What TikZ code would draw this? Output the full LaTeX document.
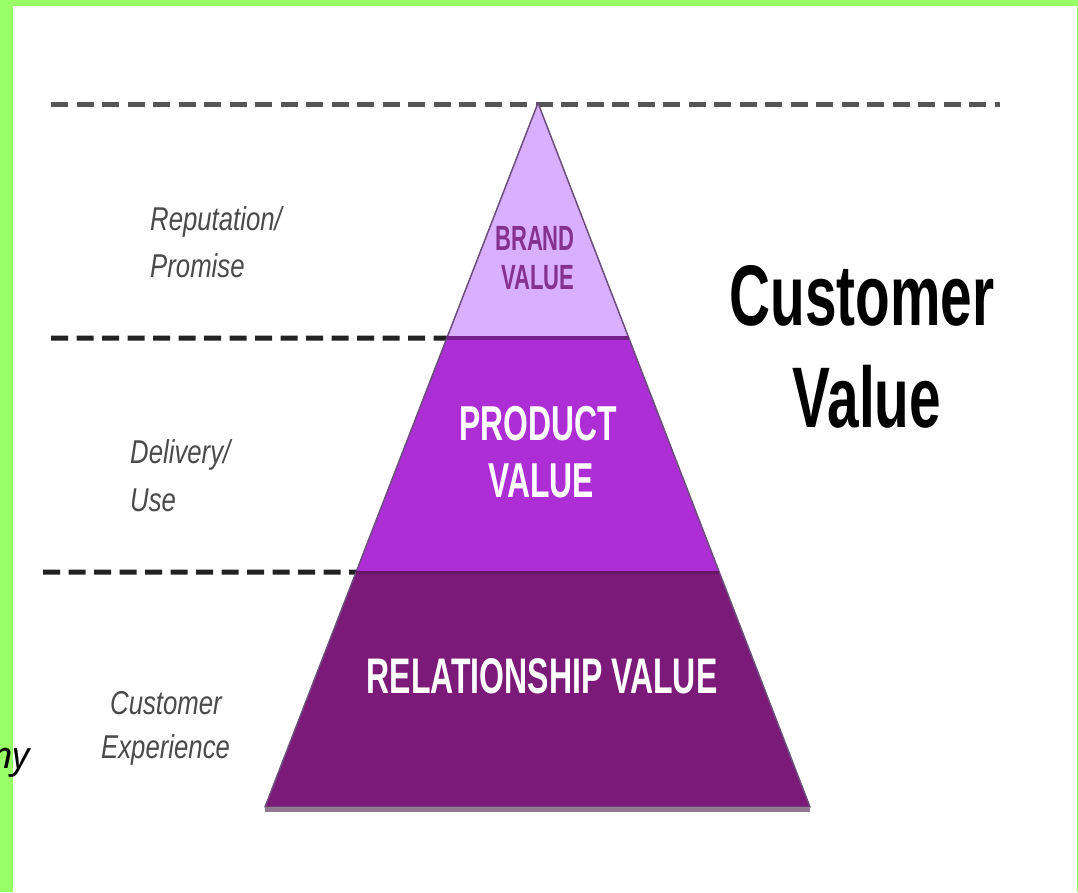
\documentclass[tikz,border=0pt]{standalone}
\usepackage{fontspec}
\usepackage{graphicx}
\setmainfont{Liberation Sans}
\newfontfamily\notofont{Noto Sans}
\usetikzlibrary{calc}
\definecolor{greenband}{HTML}{99FF66}
\definecolor{brandfill}{HTML}{D8B0FF}
\definecolor{prodfill}{HTML}{AE2ED6}
\definecolor{relfill}{HTML}{7B1A78}
\definecolor{outl}{HTML}{6B4E7B}
\definecolor{sepone}{HTML}{72208A}
\definecolor{septwo}{HTML}{6A1668}
\definecolor{basegray}{HTML}{8F7A92}
\definecolor{labgray}{HTML}{4A4A4A}
\definecolor{brandtext}{HTML}{86308F}
\definecolor{dashtop}{HTML}{555555}
\definecolor{dashlow}{HTML}{222222}
\tikzset{
  dashline/.style={line width=5pt, dash pattern=on 17pt off 8.5pt},
  sidelabel/.style={anchor=base west, inner sep=0pt, text=labgray, font=\fontsize{33}{33}\selectfont\itshape},
  layertext/.style={anchor=base, inner sep=0pt, font=\bfseries},
  titletext/.style={anchor=base, inner sep=0pt, text=black, font=\fontsize{86}{86}\selectfont\bfseries}
}
\begin{document}
\begin{tikzpicture}[x=1pt, y=-1pt]
\useasboundingbox (0,0) rectangle (1078,892);
\fill[white] (0,0) rectangle (1078,892);
% green frame
\fill[greenband] (0,0) rectangle (1078,6);
\fill[greenband] (0,0) rectangle (13,892);
\fill[greenband] (1077,6) rectangle (1078,892);

% pyramid coordinates
\coordinate (A) at (538,103);
\coordinate (BL) at (265,807);
\coordinate (BR) at (810,807);
\coordinate (L1) at ($(A)!{235/704}!(BL)$);
\coordinate (R1) at ($(A)!{235/704}!(BR)$);
\coordinate (L2) at ($(A)!{469/704}!(BL)$);
\coordinate (R2) at ($(A)!{469/704}!(BR)$);

% dashed level lines
\coordinate (D1a) at (51,104);
\coordinate (D1b) at (1000,104);
\coordinate (D2a) at (51,338);
\coordinate (D3a) at (43,572);
\draw[dashline, draw=dashtop] (D1a) -- (D1b);
\draw[dashline, draw=dashlow] (D2a) -- (L1);
\draw[dashline, draw=dashlow] (D3a) -- (L2);

% layers
\fill[brandfill] (A) -- (L1) -- (R1) -- cycle;
\fill[prodfill] (L1) -- (L2) -- (R2) -- (R1) -- cycle;
\fill[relfill] (L2) -- (BL) -- (BR) -- (R2) -- cycle;
\draw[outl, line width=1.5pt, line join=round] (A) -- (BL) -- (BR) -- cycle;
\draw[sepone, line width=4pt] (L1) -- (R1);
\draw[septwo, line width=3pt] (L2) -- (R2);
\draw[basegray, line width=5pt] ($(BL)+(0,2.5)$) -- ($(BR)+(0,2.5)$);

% layer texts
\node[layertext, text=brandtext, font=\fontsize{35}{35}\selectfont\bfseries] (brand1) at (535,250) {\scalebox{0.63}[1]{BRAND}};
\node[layertext, text=brandtext, font=\fontsize{35}{35}\selectfont\bfseries] (brand2) at (538,289) {\scalebox{0.63}[1]{VALUE}};
\node[layertext, text=white, font=\fontsize{49}{49}\selectfont\bfseries] (prod1) at (538,440) {\scalebox{0.65}[1]{PRODUCT}};
\node[layertext, text=white, font=\fontsize{49}{49}\selectfont\bfseries] (prod2) at (541,497) {\scalebox{0.65}[1]{VALUE}};
\node[layertext, text=white, font=\fontsize{50}{50}\selectfont\bfseries] (rel) at (542,693) {\scalebox{0.64}[1]{RELATIONSHIP VALUE}};

% side labels
\node[sidelabel] (rep1) at (150,230) {\scalebox{0.78}[1]{Reputation/}};
\node[sidelabel] (rep2) at (150,277) {\scalebox{0.78}[1]{Promise}};
\node[sidelabel] (del1) at (130,463) {\scalebox{0.78}[1]{Delivery/}};
\node[sidelabel] (del2) at (130,511) {\scalebox{0.78}[1]{Use}};
\node[sidelabel] (exp1) at (110,714) {\scalebox{0.78}[1]{Customer}};
\node[sidelabel] (exp2) at (101,758) {\scalebox{0.78}[1]{Experience}};

% title
\node[titletext] (cv1) at (862,325) {\scalebox{0.66}[1]{Customer}};
\node[titletext] (cv2) at (867,427) {\scalebox{0.66}[1]{Value}};

% cut-off text at left edge
\node[anchor=base east, inner sep=0pt, text=black, font=\notofont\fontsize{37}{37}\selectfont\itshape] (cut) at (30,768) {ny};
\end{tikzpicture}
\end{document}
